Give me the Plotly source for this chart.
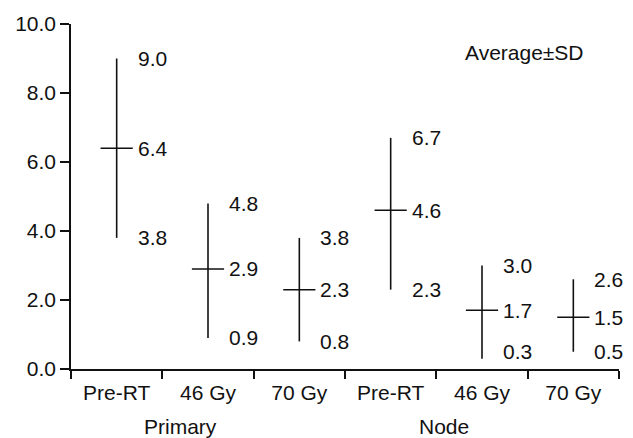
import plotly.graph_objects as go

groups = ["Primary", "Node"]
conditions = ["Pre-RT", "46 Gy", "70 Gy", "Pre-RT", "46 Gy", "70 Gy"]
mean_vals = [6.4, 2.9, 2.3, 4.6, 1.7, 1.5]
upper_vals = [9.0, 4.8, 3.8, 6.7, 3.0, 2.6]
lower_vals = [3.8, 0.9, 0.8, 2.3, 0.3, 0.5]
y_ticks = [0, 2, 4, 6, 8, 10]

FONT = "Liberation Sans, Arial, Helvetica, sans-serif"
FS = 21
INK = "#111111"
xs = list(range(len(conditions)))

fig = go.Figure()
fig.add_trace(go.Scatter(
    x=xs, y=mean_vals, mode="markers",
    marker=dict(symbol="line-ew", size=23, color=INK, line=dict(color=INK, width=1.5)),
    error_y=dict(type="data", symmetric=False,
                 array=[u - m for u, m in zip(upper_vals, mean_vals)],
                 arrayminus=[m - l for m, l in zip(mean_vals, lower_vals)],
                 width=0, thickness=1.6, color=INK),
    showlegend=False, hoverinfo="skip"))

annotations = []
for i in xs:
    for v in (upper_vals[i], mean_vals[i], lower_vals[i]):
        annotations.append(dict(x=i, y=max(v, 0.5), xref="x", yref="y", text=f"{v:.1f}",
                                showarrow=False, xanchor="left", yanchor="middle",
                                xshift=19, font=dict(family=FONT, size=FS, color=INK)))

annotations.append(dict(x=0.70, y=0, xref="x", yref="paper", text=groups[0], showarrow=False,
                        xanchor="center", yanchor="top", yshift=-45, borderpad=0,
                        font=dict(family=FONT, size=FS, color=INK)))
annotations.append(dict(x=3.58, y=0, xref="x", yref="paper", text=groups[1], showarrow=False,
                        xanchor="center", yanchor="top", yshift=-45, borderpad=0,
                        font=dict(family=FONT, size=FS, color=INK)))
annotations.append(dict(x=0.8276, y=0.918, xref="paper", yref="paper", text="Average±SD",
                        showarrow=False, xanchor="center", yanchor="middle",
                        font=dict(family=FONT, size=FS, color=INK)))

fig.update_layout(
    width=633, height=438,
    margin=dict(l=71, r=14, t=16, b=69),
    paper_bgcolor="white", plot_bgcolor="white",
    font=dict(family=FONT, size=FS, color=INK),
    annotations=annotations,
    xaxis=dict(range=[-0.5, 5.5], tickmode="array", tickvals=xs, ticktext=conditions,
               ticks="", showline=True, linecolor=INK, linewidth=1.6, showgrid=False,
               zeroline=False, tickfont=dict(family=FONT, size=FS, color=INK),
               ticklabelstandoff=4,
               minor=dict(tickmode="array", tickvals=[x - 0.5 for x in range(len(conditions) + 1)],
                          ticks="outside", ticklen=8, tickwidth=1.6, tickcolor=INK, showgrid=False)),
    yaxis=dict(range=[0, 10], tickmode="array", tickvals=y_ticks, tickformat=".1f",
               ticks="outside", ticklen=9, tickwidth=1.6, tickcolor=INK,
               showline=True, linecolor=INK, linewidth=1.6, showgrid=False, zeroline=False,
               tickfont=dict(family=FONT, size=FS, color=INK)),
)

fig.write_html("out.html")
